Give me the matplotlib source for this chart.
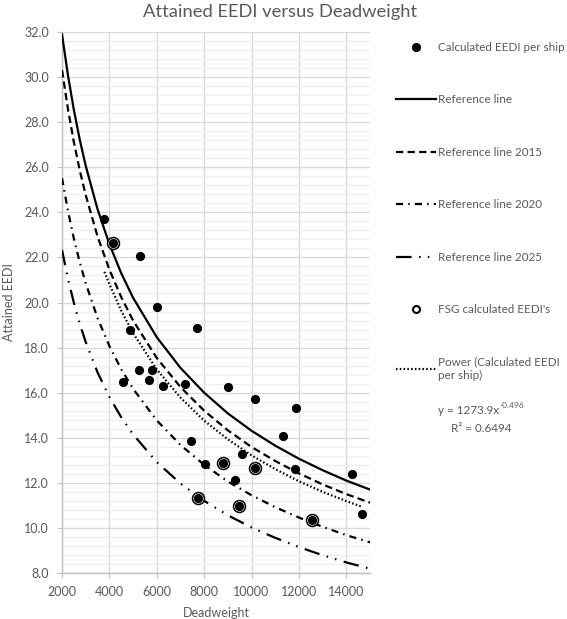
import matplotlib
matplotlib.use("Agg")
import matplotlib.pyplot as plt
from matplotlib.lines import Line2D
from matplotlib.ticker import MultipleLocator

# Calculated EEDI per ship (deadweight, attained EEDI)
ship_dwt = [3790, 4160, 5280, 5990, 4890, 7680, 5240, 5800, 4580, 5660, 6270, 7180,
            9020, 10160, 11880, 11340, 7440, 9610, 8050, 11820, 14230, 9290, 14650,
            8810, 10140, 7760, 9450, 12540]
ship_eedi = [23.7, 22.65, 22.08, 19.78, 18.8, 18.85, 17.0, 17.0, 16.48, 16.55, 16.29, 16.4,
             16.26, 15.7, 15.34, 14.07, 13.84, 13.29, 12.83, 12.62, 12.39, 12.11, 10.63,
             12.9, 12.67, 11.31, 10.97, 10.35]

# FSG ships
fsg_dwt = [4160, 8810, 10140, 7760, 9450, 12540]
fsg_eedi = [22.65, 12.9, 12.67, 11.31, 10.97, 10.35]

# reference lines read along the deadweight axis
ref_dwt = [2000, 2250, 2500, 2750, 3000, 3500, 4000, 4500, 5000, 6000, 7000, 8000,
           9000, 10000, 11000, 12000, 13000, 14000, 15000]
ref_line = [31.90, 30.09, 28.55, 27.22, 26.07, 24.14, 22.59, 21.30, 20.21, 18.46, 17.10, 16.00,
            15.08, 14.31, 13.65, 13.07, 12.56, 12.10, 11.70]
ref_2015 = [30.31, 28.59, 27.12, 25.86, 24.77, 22.93, 21.46, 20.24, 19.20, 17.54, 16.25, 15.20,
            14.33, 13.59, 12.97, 12.42, 11.93, 11.50, 11.12]
ref_2020 = [25.52, 24.07, 22.84, 21.78, 20.86, 19.31, 18.07, 17.04, 16.17, 14.77, 13.68, 12.80,
            12.06, 11.45, 10.92, 10.46, 10.05, 9.68, 9.36]
ref_2025 = [22.33, 21.06, 19.99, 19.05, 18.25, 16.90, 15.81, 14.91, 14.15, 12.92, 11.97, 11.20,
            10.56, 10.02, 9.56, 9.15, 8.79, 8.47, 8.19]

# power trendline of the calculated ships
trend_dwt = [3790, 4000, 4500, 5000, 6000, 7000, 8000, 9000, 10000, 11000, 12000, 13000, 14000, 14650]
trend_eedi = [21.36, 20.82, 19.64, 18.64, 17.03, 15.78, 14.76, 13.93, 13.22, 12.61, 12.07, 11.60, 11.19, 10.94]

gray = "#595959"
fs = 9
fs_leg = 8.4
plt.rcParams['font.family'] = ['Lato', 'DejaVu Sans']

fig = plt.figure(figsize=(5.67, 6.19), dpi=100)
ax = fig.add_axes([62 / 567, 1 - 573 / 619, 308 / 567, 541 / 619])

lw = 1.6
st_2015 = (0, (3.3, 1.9))
st_2020 = (0, (3.2, 2.3, 0.7, 2.3))
st_2025 = (0, (7.0, 3.4, 0.7, 3.2, 0.7, 3.4))
st_trend = (0, (0.7, 1.0))

ax.plot(ref_dwt, ref_line, color="black", lw=lw, zorder=3)
ax.plot(ref_dwt, ref_2015, color="black", lw=lw, linestyle=st_2015, zorder=3)
ax.plot(ref_dwt, ref_2020, color="black", lw=lw, linestyle=st_2020, zorder=3)
ax.plot(ref_dwt, ref_2025, color="black", lw=lw, linestyle=st_2025, zorder=3)
ax.plot(trend_dwt, trend_eedi, color="black", lw=lw, linestyle=st_trend, zorder=3)

ax.plot(fsg_dwt, fsg_eedi, linestyle="none", marker="o", ms=8.6, mfc="white", mec="black", mew=1.1, zorder=4)
ax.plot(ship_dwt, ship_eedi, linestyle="none", marker="o", ms=5.6, color="black", zorder=5)

ax.set_xlim(2000, 15000)
ax.set_ylim(8, 32)
ax.xaxis.set_major_locator(MultipleLocator(2000))
ax.yaxis.set_major_locator(MultipleLocator(2))
ax.yaxis.set_minor_locator(MultipleLocator(0.4))
ax.yaxis.set_major_formatter(matplotlib.ticker.FormatStrFormatter("%.1f"))

ax.grid(True, which="major", color="#d9d9d9", lw=1.0)
ax.grid(True, which="minor", axis="y", color="#efefef", lw=0.9)
ax.set_axisbelow(True)
for side in ["top", "right"]:
    ax.spines[side].set_visible(False)
for side in ["left", "bottom"]:
    ax.spines[side].set_color("#bfbfbf")
    ax.spines[side].set_linewidth(1.0)
ax.tick_params(which="major", length=3.5, color="#bfbfbf", labelsize=fs, labelcolor=gray)
ax.tick_params(axis="y", which="major", pad=6)
ax.tick_params(axis="x", which="major", pad=6)
ax.tick_params(which="minor", length=0)

ax.set_xlabel("Deadweight", fontsize=fs, color=gray, labelpad=6)
ax.set_ylabel("Attained EEDI", fontsize=fs, color=gray, labelpad=6.5)
fig.text(280 / 567, 1 - 12 / 619, "Attained EEDI versus Deadweight", ha="center", va="center",
         fontsize=13.2, color=gray)

# legend
handles = [
    Line2D([], [], linestyle="none", marker="o", ms=5.6, color="black"),
    Line2D([], [], color="black", lw=lw),
    Line2D([], [], color="black", lw=lw, linestyle=st_2015),
    Line2D([], [], color="black", lw=lw, linestyle=st_2020),
    Line2D([], [], color="black", lw=lw, linestyle=st_2025),
    Line2D([], [], linestyle="none", marker="o", ms=5.0, mfc="white", mec="black", mew=1.5),
    Line2D([], [], color="black", lw=lw, linestyle=st_trend),
]
labels = ["Calculated EEDI per ship", "Reference line", "Reference line 2015", "Reference line 2020",
          "Reference line 2025", "FSG calculated EEDI's", "Power (Calculated EEDI\nper ship)"]
leg = fig.legend(handles, labels, loc="upper left", bbox_to_anchor=(396 / 567, 1 - 42 / 619),
                 frameon=False, fontsize=fs_leg, labelspacing=3.55, handlelength=3.43, handletextpad=0.17,
                 borderaxespad=0, borderpad=0)
for t in leg.get_texts():
    t.set_color(gray)
leg.get_texts()[-1].set_linespacing(1.3)

eq = fig.text(438 / 567, 1 - 410 / 619, "y = 1273.9x", fontsize=fs_leg, color=gray, va="center")
fig.add_artist(matplotlib.text.Annotation("-0.496", xy=(1, 0.55), xycoords=eq, fontsize=6, color=gray,
                                          va="bottom", ha="left"))
fig.text(451 / 567, 1 - 429 / 619, "R² = 0.6494", fontsize=fs_leg, color=gray, va="center")

fig.savefig("out.png", dpi=100)
